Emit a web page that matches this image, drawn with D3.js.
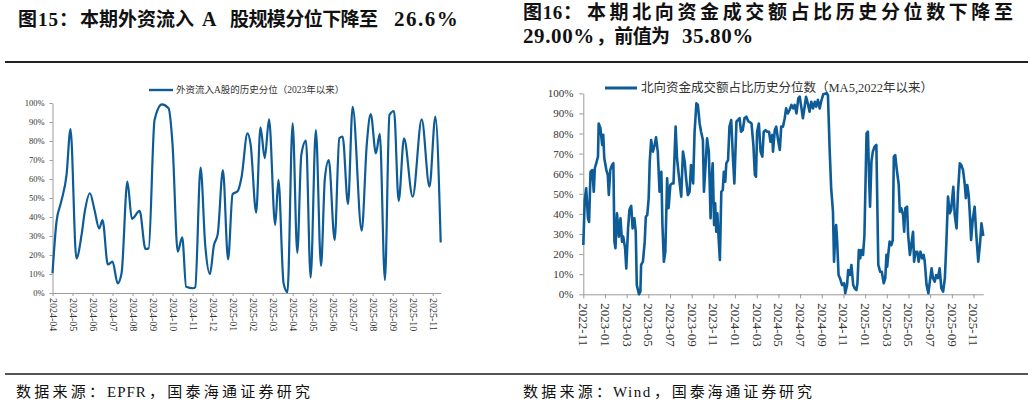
<!DOCTYPE html>
<html><head><meta charset="utf-8">
<script src="https://cdn.jsdelivr.net/npm/d3@7"></script>
<style>
html,body{margin:0;padding:0;background:#fff;}
svg{display:block;}
</style></head>
<body>
<svg id="c" width="1034" height="404"></svg>
<script>
// ---------- DATA ----------
const leftTitleParts = ["图15：", "本期外资流入", "A", "股规模分位下降至", "26.6%"];
const leftLegend = "外资流入A股的历史分位（2023年以来）";
const leftSourceParts = ["数据来源：", "EPFR", "，国泰海通证券研究"];
const leftTicks = ["2024-04","2024-05","2024-06","2024-07","2024-08","2024-09","2024-10","2024-11","2024-12","2025-01","2025-02","2025-03","2025-04","2025-05","2025-06","2025-07","2025-08","2025-09","2025-10","2025-11"];
const leftDates = ["2024-04-01","2024-04-07","2024-04-14","2024-04-22","2024-04-28","2024-05-07","2024-05-15","2024-05-20","2024-05-28","2024-06-04","2024-06-11","2024-06-16","2024-06-24","2024-07-01","2024-07-09","2024-07-15","2024-07-24","2024-07-31","2024-08-12","2024-08-21","2024-08-26","2024-09-04","2024-09-15","2024-09-25","2024-10-01","2024-10-09","2024-10-16","2024-10-22","2024-11-02","2024-11-05","2024-11-13","2024-11-20","2024-11-27","2024-12-03","2024-12-09","2024-12-17","2024-12-25","2025-01-01","2025-01-09","2025-01-15","2025-01-24","2025-01-29","2025-02-06","2025-02-12","2025-02-18","2025-02-24","2025-03-05","2025-03-10","2025-03-18","2025-03-24","2025-04-01","2025-04-08","2025-04-14","2025-04-21","2025-04-28","2025-05-06","2025-05-14","2025-05-20","2025-05-26","2025-06-04","2025-06-11","2025-06-16","2025-06-24","2025-07-01","2025-07-15","2025-07-23","2025-07-29","2025-08-06","2025-08-12","2025-08-20","2025-08-27","2025-09-03","2025-09-10","2025-09-18","2025-10-01","2025-10-15","2025-10-27","2025-11-05","2025-11-13"];
const leftValues = [10.4,37.5,48,62,86.3,18.2,30.5,42.8,52.5,43.7,34,38.4,15,16.5,5.1,10.4,58.6,39,43.2,23.2,23.5,91,99.3,97.2,78,21.8,29.3,3.3,2.5,3,66,25,10,25,31,64.7,17.7,52,53.7,61.2,84,78,42.3,87.2,71,91.4,35.8,59.5,5.1,0.4,89.3,21.2,72.6,80.2,8.1,85.8,14.2,60.4,70,27.9,81.4,82.3,46.8,98,32.8,78.8,94.2,73.5,83.7,6.8,93.7,95.8,48.4,81.4,50.7,91.4,56,92.8,26.6];

const rightTitle1Parts = ["图16：", "本期北向资金成交额占比历史分位数下降至"];
const rightTitle2Parts = ["29.00%", "，前值为", "35.80%"];
const rightLegend = "北向资金成交额占比历史分位数（MA5,2022年以来）";
const rightSourceParts = ["数据来源：", "Wind", "，国泰海通证券研究"];
const rightTicks = ["2022-11","2023-01","2023-03","2023-05","2023-07","2023-09","2023-11","2024-01","2024-03","2024-05","2024-07","2024-09","2024-11","2025-01","2025-03","2025-05","2025-07","2025-09","2025-11"];
const rightDates = ["2022-11-01","2022-11-05","2022-11-09","2022-11-14","2022-11-17","2022-11-21","2022-11-26","2022-11-30","2022-12-03","2022-12-07","2022-12-12","2022-12-14","2022-12-19","2022-12-24","2022-12-27","2022-12-30",
"2023-01-05","2023-01-09","2023-01-12","2023-01-16","2023-01-21","2023-01-25","2023-01-28","2023-01-31","2023-02-04","2023-02-09","2023-02-13","2023-02-17","2023-02-20","2023-02-25","2023-02-28","2023-03-05","2023-03-09","2023-03-14","2023-03-18","2023-03-23","2023-03-27","2023-03-30","2023-04-05","2023-04-09","2023-04-11","2023-04-16","2023-04-21","2023-04-24","2023-04-28","2023-05-02","2023-05-05","2023-05-09","2023-05-14","2023-05-19","2023-05-23","2023-05-28","2023-06-02","2023-06-07","2023-06-10","2023-06-14","2023-06-18","2023-06-23","2023-06-27","2023-07-02","2023-07-07","2023-07-11","2023-07-17","2023-07-21","2023-07-26","2023-08-02","2023-08-07","2023-08-12","2023-08-16","2023-08-21","2023-08-26","2023-08-30","2023-09-05","2023-09-09","2023-09-14","2023-09-18","2023-09-23","2023-09-27","2023-10-02","2023-10-05","2023-10-10","2023-10-14","2023-10-19","2023-10-24","2023-10-27","2023-10-30","2023-11-03","2023-11-06","2023-11-09","2023-11-12","2023-11-16","2023-11-19","2023-11-23","2023-11-27","2023-11-30","2023-12-04","2023-12-07","2023-12-12","2023-12-16","2023-12-21","2023-12-26","2023-12-30",
"2024-01-05","2024-01-09","2024-01-14","2024-01-18","2024-01-23","2024-01-28","2024-02-02","2024-02-07","2024-02-12","2024-02-16","2024-02-21","2024-02-25","2024-02-28","2024-03-02","2024-03-07","2024-03-12","2024-03-17","2024-03-21","2024-03-26","2024-03-30","2024-04-05","2024-04-09","2024-04-14","2024-04-16","2024-04-21","2024-04-25","2024-04-30","2024-05-05","2024-05-09","2024-05-14","2024-05-19","2024-05-23","2024-05-28","2024-06-02","2024-06-07","2024-06-12","2024-06-16","2024-06-21","2024-06-26","2024-06-30","2024-07-05","2024-07-09","2024-07-14","2024-07-18","2024-07-23","2024-07-28","2024-08-02","2024-08-07","2024-08-12","2024-08-16","2024-08-21","2024-08-26","2024-08-30","2024-09-05","2024-09-14","2024-09-18","2024-09-23","2024-09-27","2024-10-02","2024-10-05","2024-10-09","2024-10-11","2024-10-14","2024-10-18","2024-10-22","2024-10-28","2024-11-03","2024-11-06","2024-11-11","2024-11-14","2024-11-19","2024-11-23","2024-11-28","2024-12-02","2024-12-07","2024-12-10","2024-12-14","2024-12-18","2024-12-21","2024-12-26","2024-12-30",
"2025-01-05","2025-01-09","2025-01-12","2025-01-15","2025-01-19","2025-01-23","2025-01-28","2025-02-02","2025-02-07","2025-02-12","2025-02-16","2025-02-21","2025-02-25","2025-02-28","2025-03-02","2025-03-05","2025-03-09","2025-03-14","2025-03-18","2025-03-21","2025-03-25","2025-03-29","2025-04-04","2025-04-07","2025-04-11","2025-04-16","2025-04-19","2025-04-22","2025-04-27","2025-04-30","2025-05-05","2025-05-09","2025-05-14","2025-05-17","2025-05-21","2025-05-26","2025-05-30","2025-06-04","2025-06-09","2025-06-13","2025-06-16","2025-06-21","2025-06-26","2025-06-30","2025-07-05","2025-07-09","2025-07-14","2025-07-18","2025-07-23","2025-07-28","2025-08-02","2025-08-07","2025-08-12","2025-08-16","2025-08-21","2025-08-26","2025-08-30","2025-09-05","2025-09-09","2025-09-14","2025-09-18","2025-09-23","2025-09-27","2025-10-02","2025-10-07","2025-10-10","2025-10-14","2025-10-18","2025-10-21","2025-10-25","2025-10-30","2025-11-04","2025-11-09","2025-11-14","2025-11-19","2025-11-23","2025-11-28"];
const rightValues = [24.5,47,52.7,37.8,36,61,61.8,51,62.7,65.2,68.5,85,82.6,74.3,79.3,67.7,
61.8,59.4,49.4,61.8,64.3,65.2,26.2,22.9,40.3,28.7,37.8,26.2,28.7,22.9,12.9,32.8,42,44,32.8,37.8,31.1,4.6,0,1.3,14.6,16.2,26.2,38.6,39.4,47.8,66,76.8,71,74.3,78.1,71,51,61,34.5,16.2,21.2,57.7,42.8,54.4,55.2,55.2,83.4,67.7,59.4,48.6,71,66,57.7,49.4,51,64.3,55.2,80.9,95,94.2,85,80.9,76.8,51,65.2,77.6,71,37.8,57.7,65.2,34.5,45.3,31.1,40.3,26.2,17.1,51,51.9,61,56,65.2,66.8,83.4,86.7,67.7,55.2,
85.9,86.7,87.6,80.9,81.7,87.6,88.4,86.2,85.6,85,74.3,59.4,58.5,80.9,85,71,68.5,80.9,81.7,80.9,80.9,75.9,79.3,71,81.7,83.4,76.8,71.8,83.4,83.4,87.6,92.5,90,91.7,94.2,92.5,94.2,90,97.5,98.3,92.5,87.6,93.3,98.3,95,90.8,95.8,92.5,95.8,93.3,96.7,92.5,95.8,99.5,100,99.2,71,52.7,41.1,16.2,31.1,34.5,26.2,9.6,8,4.6,5.5,0.5,4.6,12.1,9.6,14.6,4.6,3,2.1,5.5,22,17.9,22,19.6,29.5,
80.1,80.9,59.4,43.6,66,71,73.4,74.3,14.6,11.2,11.2,5.5,8,19.6,13.7,19.6,26.2,24.5,27,68.5,69.3,62.7,54.4,41.1,42.8,39.4,31.1,42.8,43.6,29.5,19.6,24.5,31.1,16.2,21.2,21.2,16.2,21.2,17.9,19.6,16.2,4.6,0.5,6.3,12.9,8,6.3,9.6,8,12.9,3,1.3,8,24.5,48.6,40.3,42,53.5,39.4,32.8,51,65.2,64.3,61.8,54.4,47.8,54.4,49.4,41.1,27,37.8,43.6,28.7,16.2,25.4,35.3,29];

const pctTicks = [0,10,20,30,40,50,60,70,80,90,100];

// ---------- HELPERS ----------
function monthIndex(str, base) {
  const [y, m, d] = str.split("-").map(Number);
  const [by, bm] = base.split("-").map(Number);
  const dim = new Date(y, m, 0).getDate();
  return (y - by) * 12 + (m - bm) + ((d || 1) - 1) / dim;
}

const svg = d3.select("#c");
svg.append("rect").attr("width", 1034).attr("height", 404).attr("fill", "#fff");

const serif = "'Liberation Serif','Times New Roman','Noto Sans CJK SC',serif";
const cjk = "'Liberation Serif','Noto Sans CJK SC',sans-serif";
const lineColor = "#0d5b97";
const axisColor = "#9a9a9a";
const labelColor = "#333";

function rule(x1, x2, y, color) {
  svg.append("line").attr("x1", x1).attr("x2", x2).attr("y1", y).attr("y2", y)
    .attr("stroke", color).attr("stroke-width", 1.2).attr("shape-rendering", "crispEdges");
}
rule(5, 520, 62, "#222"); rule(520, 1028, 62, "#222");
rule(5, 520, 374, "#555"); rule(520, 1028, 374, "#555");

// a text segment; CJK segments are spread between x0 and x1, Latin ones use natural width
function seg(text, x0, x1, y, size, bold, spacing) {
  const t = svg.append("text").attr("x", x0).attr("y", y).attr("font-family", cjk)
    .attr("font-size", size).attr("fill", "#111").text(text);
  if (bold) t.attr("font-weight", "bold");
  if (x1 != null) t.attr("textLength", x1 - x0).attr("lengthAdjust", "spacing");
  if (spacing) t.attr("letter-spacing", spacing);
  return t;
}

// titles
seg(leftTitleParts[0], 18, 78, 26, 19, true);
seg(leftTitleParts[1], 80, 194, 26, 19, true);
seg(leftTitleParts[2], 202, null, 26, 20, true);
seg(leftTitleParts[3], 230, 378, 26, 19, true);
seg(leftTitleParts[4], 394, null, 26, 21, true, 1.5);

seg(rightTitle1Parts[0], 523, 582, 19, 19, true);
seg(rightTitle1Parts[1], 587, 1013, 19, 19, true);
seg(rightTitle2Parts[0], 523, null, 43, 21, true, 0.6);
seg(rightTitle2Parts[1], 596, 670, 43, 19, true);
seg(rightTitle2Parts[2], 682, null, 43, 21, true, 0.6);

// sources
seg(leftSourceParts[0], 16, 104, 397, 15, false);
seg(leftSourceParts[1], 107, null, 397, 15, false, 1);
seg(leftSourceParts[2], 149, 310, 397, 15, false);
seg(rightSourceParts[0], 523, 611, 397, 15, false);
seg(rightSourceParts[1], 613, null, 397, 15, false, 1.5);
seg(rightSourceParts[2], 654, 812, 397, 15, false);

// ---------- LEFT CHART ----------
(function () {
  const base = leftTicks[0];
  const xs = leftDates.map(d => monthIndex(d, base));
  const x = d3.scaleLinear().domain([0, xs[xs.length - 1]]).range([52.5, 440.7]);
  const y = d3.scaleLinear().domain([0, 100]).range([293, 103]);
  const g = svg.append("g");

  const xa = g.append("g").attr("transform", "translate(0,293)")
    .call(d3.axisBottom(x).tickValues(leftTicks.map(t => monthIndex(t, base)))
      .tickFormat((d, i) => leftTicks[i]).tickSize(3).tickSizeOuter(0));
  xa.select(".domain").attr("stroke", axisColor);
  xa.selectAll(".tick line").attr("stroke", axisColor);
  xa.selectAll(".tick text").attr("transform", "rotate(90)").attr("x", 5).attr("y", 0)
    .attr("dy", "0.35em").attr("text-anchor", "start")
    .attr("font-family", serif).attr("font-size", 10).attr("fill", labelColor);

  const ya = g.append("g").attr("transform", "translate(52.5,0)")
    .call(d3.axisLeft(y).tickValues(pctTicks).tickFormat(d => d + "%").tickSize(3).tickPadding(5).tickSizeOuter(0));
  ya.select(".domain").attr("stroke", axisColor);
  ya.selectAll(".tick line").attr("stroke", axisColor);
  ya.selectAll(".tick text").attr("font-family", serif).attr("font-size", 8.5).attr("fill", labelColor);

  const line = d3.line().x((d, i) => x(xs[i])).y(d => y(d)).curve(d3.curveMonotoneX);
  g.append("path").datum(leftValues).attr("d", line).attr("fill", "none")
    .attr("stroke", lineColor).attr("stroke-width", 2.2).attr("stroke-linejoin", "round");

  g.append("line").attr("x1", 149).attr("x2", 173).attr("y1", 90).attr("y2", 90)
    .attr("stroke", lineColor).attr("stroke-width", 2.4);
  g.append("text").attr("x", 176).attr("y", 93.3).attr("font-family", cjk).attr("font-size", 9.5)
    .attr("fill", "#333").text(leftLegend);
})();

// ---------- RIGHT CHART ----------
(function () {
  const base = rightTicks[0];
  const xs = rightDates.map(d => monthIndex(d, base));
  const x = d3.scaleLinear().domain([0, xs[xs.length - 1]]).range([583.3, 983.3]);
  const y = d3.scaleLinear().domain([0, 100]).range([294.3, 93.3]);
  const g = svg.append("g");

  const xa = g.append("g").attr("transform", "translate(0,294.3)")
    .call(d3.axisBottom(x).tickValues(rightTicks.map(t => monthIndex(t, base)))
      .tickFormat((d, i) => rightTicks[i]).tickSize(4).tickSizeOuter(0));
  xa.select(".domain").attr("stroke", axisColor);
  xa.selectAll(".tick line").attr("stroke", axisColor);
  xa.selectAll(".tick text").attr("transform", "rotate(90)").attr("x", 9).attr("y", 0)
    .attr("dy", "0.35em").attr("text-anchor", "start")
    .attr("font-family", serif).attr("font-size", 13).attr("fill", labelColor);

  const ya = g.append("g").attr("transform", "translate(583.3,0)")
    .call(d3.axisLeft(y).tickValues(pctTicks).tickFormat(d => d + "%").tickSize(4).tickPadding(6).tickSizeOuter(0));
  ya.select(".domain").attr("stroke", axisColor);
  ya.selectAll(".tick line").attr("stroke", axisColor);
  ya.selectAll(".tick text").attr("font-family", serif).attr("font-size", 11).attr("fill", labelColor);

  const line = d3.line().x((d, i) => x(xs[i])).y(d => y(d));
  g.append("path").datum(rightValues).attr("d", line).attr("fill", "none")
    .attr("stroke", lineColor).attr("stroke-width", 2.6).attr("stroke-linejoin", "round");

  g.append("line").attr("x1", 605).attr("x2", 637).attr("y1", 88).attr("y2", 88)
    .attr("stroke", lineColor).attr("stroke-width", 3);
  g.append("text").attr("x", 641).attr("y", 92.3).attr("font-family", cjk).attr("font-size", 12.5)
    .attr("fill", "#333").text(rightLegend);
})();
</script>
</body></html>
